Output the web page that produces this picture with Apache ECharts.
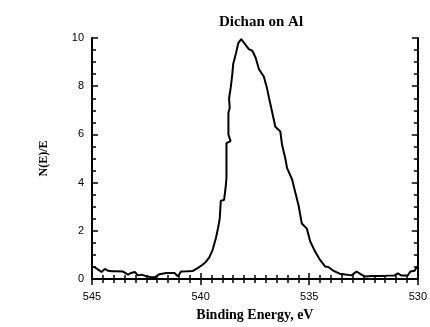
<!DOCTYPE html>
<html>
<head>
<meta charset="utf-8">
<script src="https://cdn.jsdelivr.net/npm/echarts@6/dist/echarts.min.js"></script>
<style>
    html, body { margin: 0; padding: 0; background: #fff; }
    #main { width: 430px; height: 327px; }
</style>
</head>
<body>
<div id="main"></div>
<script>
// binding energy (eV) from left to right
var energy = [
    545.0, 544.9, 544.7, 544.56, 544.41, 544.25, 544.1, 543.9, 543.57, 543.34,
    543.2, 543.03, 542.88, 542.7, 542.5, 542.27, 542.1, 541.89, 541.58, 541.2,
    541.05, 540.9, 540.6, 540.37, 540.14, 539.91, 539.75, 539.6, 539.45, 539.3,
    539.2, 539.12, 539.07, 538.92, 538.84, 538.81, 538.81, 538.62, 538.72, 538.72,
    538.66, 538.69, 538.61, 538.54, 538.5, 538.38, 538.26, 538.13, 538.0, 537.78,
    537.62, 537.47, 537.32, 537.2, 537.09, 536.94, 536.86, 536.71, 536.56, 536.33,
    536.25, 536.1, 536.02, 535.79, 535.64, 535.49, 535.34, 535.11, 534.95, 534.73,
    534.5, 534.35, 534.27, 534.12, 534.04, 533.9, 533.81, 533.6, 533.43, 533.05,
    532.82, 532.6, 532.4, 532.14, 531.68, 531.3, 531.07, 530.92, 530.77, 530.46,
    530.34, 530.15, 530.05, 530.0
];
// N(E)/E
var intensity = [
    0.50, 0.50, 0.38, 0.29, 0.42, 0.34, 0.32, 0.32, 0.31, 0.18,
    0.25, 0.29, 0.15, 0.18, 0.11, 0.07, 0.08, 0.20, 0.25, 0.25,
    0.11, 0.31, 0.32, 0.33, 0.45, 0.59, 0.72, 0.90, 1.20, 1.68,
    2.10, 2.50, 3.25, 3.28, 3.86, 4.20, 5.64, 5.72, 6.00, 6.90,
    7.10, 7.50, 7.96, 8.50, 8.92, 9.34, 9.80, 9.95, 9.80, 9.54,
    9.47, 9.19, 8.72, 8.55, 8.40, 7.90, 7.55, 6.94, 6.32, 6.12,
    5.57, 5.00, 4.60, 4.14, 3.59, 3.05, 2.30, 2.09, 1.55, 1.14,
    0.79, 0.62, 0.52, 0.50, 0.45, 0.35, 0.28, 0.22, 0.20, 0.15,
    0.31, 0.18, 0.10, 0.12, 0.12, 0.14, 0.15, 0.23, 0.15, 0.15,
    0.31, 0.34, 0.50, 0.50
];
var xTicks = [545, 540, 535, 530];
var yTicks = [0, 2, 4, 6, 8, 10];

var points = [];
for (var i = 0; i < energy.length; i++) {
    points.push([energy[i], intensity[i]]);
}

var tickStyle = { color: '#000', width: 1.5 };

// ticks point into the plot: negative length flips them
function frameAxis(extra) {
    var base = {
        type: 'value',
        axisLine: { show: true, lineStyle: { color: '#000', width: 2 } },
        axisTick: { show: true, length: -6, lineStyle: tickStyle },
        minorTick: { show: true, length: -4, lineStyle: tickStyle },
        splitLine: { show: false }
    };
    for (var k in extra) { base[k] = extra[k]; }
    base.minorTick.splitNumber = extra.minorSplit;
    return base;
}

var chart = echarts.init(document.getElementById('main'), null, { renderer: 'canvas' });
var option = {
    animation: false,
    backgroundColor: '#fff',
    title: {
        text: 'Dichan on Al',
        left: 256,
        top: 10,
        textAlign: 'center',
        textStyle: { fontFamily: 'Liberation Serif', fontWeight: 'bold', fontSize: 15, color: '#000' }
    },
    grid: { left: 92, right: 10, top: 38, bottom: 46 },
    xAxis: [
        frameAxis({
            min: 530, max: 545, interval: 5, inverse: true, minorSplit: 10,
            name: 'Binding Energy, eV', nameLocation: 'middle', nameGap: 29,
            nameTextStyle: { fontFamily: 'Liberation Serif', fontWeight: 'bold', fontSize: 14, color: '#000' },
            axisLabel: {
                color: '#000', fontFamily: 'Liberation Sans', fontSize: 11, margin: 12,
                formatter: function (v) { return xTicks.indexOf(v) >= 0 ? v : ''; }
            }
        }),
        frameAxis({
            min: 530, max: 545, interval: 5, inverse: true, minorSplit: 10, position: 'top',
            axisLabel: { show: false }
        })
    ],
    yAxis: [
        frameAxis({
            min: 0, max: 10, interval: 2, minorSplit: 4,
            name: 'N(E)/E', nameLocation: 'middle', nameGap: 42, nameRotate: 90,
            nameTextStyle: { fontFamily: 'Liberation Serif', fontWeight: 'bold', fontSize: 12, color: '#000' },
            axisLabel: {
                color: '#000', fontFamily: 'Liberation Sans', fontSize: 11, margin: 8,
                formatter: function (v) { return yTicks.indexOf(v) >= 0 ? v : ''; }
            }
        }),
        frameAxis({
            min: 0, max: 10, interval: 2, minorSplit: 4, position: 'right',
            axisLabel: { show: false }
        })
    ],
    series: [
        {
            type: 'line',
            data: points,
            showSymbol: false,
            symbol: 'none',
            clip: true,
            lineStyle: { color: '#000', width: 2 }
        }
    ]
};
chart.setOption(option, true);
</script>
</body>
</html>
